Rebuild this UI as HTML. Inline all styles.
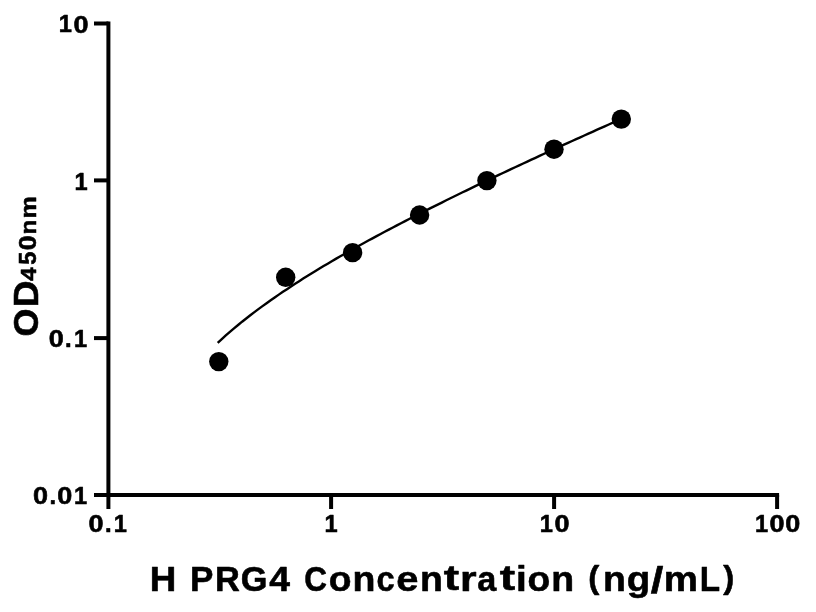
<!DOCTYPE html>
<html><head><meta charset="utf-8"><title>H PRG4 standard curve</title><style>
html,body{margin:0;padding:0;background:#fff;width:816px;height:612px;overflow:hidden}
svg{display:block;will-change:transform}
text{font-family:"Liberation Sans",sans-serif;font-weight:bold;fill:#000;stroke:#000;stroke-width:0.55px;stroke-linejoin:round}
</style></head><body>
<svg width="816" height="612" viewBox="0 0 816 612">
<rect width="816" height="612" fill="#fff"/>
<g stroke="#000" stroke-width="4.0" fill="none">
<line x1="108.4" y1="21.4" x2="108.4" y2="497"/>
<line x1="106.2" y1="495" x2="779.1" y2="495"/>
<line x1="94" y1="23.5" x2="108.4" y2="23.5"/>
<line x1="94" y1="180.4" x2="108.4" y2="180.4"/>
<line x1="94" y1="338.1" x2="108.4" y2="338.1"/>
<line x1="94" y1="495.0" x2="108.4" y2="495.0"/>
<line x1="108.4" y1="495" x2="108.4" y2="509"/>
<line x1="331.1" y1="495" x2="331.1" y2="509"/>
<line x1="554.1" y1="495" x2="554.1" y2="509"/>
<line x1="777.1" y1="495" x2="777.1" y2="509"/>
</g>
<path d="M217.7,342.91 L221.8,339.14 L225.8,335.47 L229.9,331.89 L234.0,328.41 L238.1,325.02 L242.1,321.70 L246.2,318.45 L250.3,315.28 L254.4,312.16 L258.4,309.11 L262.5,306.11 L266.6,303.17 L270.7,300.27 L274.7,297.42 L278.8,294.62 L282.9,291.85 L287.0,289.13 L291.0,286.44 L295.1,283.79 L299.2,281.18 L303.2,278.59 L307.3,276.04 L311.4,273.51 L315.5,271.01 L319.5,268.54 L323.6,266.09 L327.7,263.67 L331.8,261.27 L335.8,258.89 L339.9,256.54 L344.0,254.20 L348.1,251.88 L352.1,249.59 L356.2,247.30 L360.3,245.04 L364.4,242.79 L368.4,240.56 L372.5,238.35 L376.6,236.15 L380.6,233.96 L384.7,231.79 L388.8,229.63 L392.9,227.48 L396.9,225.34 L401.0,223.22 L405.1,221.11 L409.2,219.01 L413.2,216.92 L417.3,214.84 L421.4,212.76 L425.5,210.70 L429.5,208.65 L433.6,206.61 L437.7,204.57 L441.8,202.55 L445.8,200.53 L449.9,198.52 L454.0,196.52 L458.1,194.53 L462.1,192.54 L466.2,190.56 L470.3,188.58 L474.3,186.62 L478.4,184.66 L482.5,182.70 L486.6,180.75 L490.6,178.81 L494.7,176.88 L498.8,174.94 L502.9,173.02 L506.9,171.10 L511.0,169.18 L515.1,167.27 L519.2,165.37 L523.2,163.47 L527.3,161.57 L531.4,159.68 L535.5,157.79 L539.5,155.91 L543.6,154.03 L547.7,152.16 L551.7,150.29 L555.8,148.43 L559.9,146.56 L564.0,144.71 L568.0,142.85 L572.1,141.00 L576.2,139.15 L580.3,137.31 L584.3,135.47 L588.4,133.64 L592.5,131.80 L596.6,129.97 L600.6,128.15 L604.7,126.32 L608.8,124.50 L612.9,122.69 L616.9,120.87 L621.0,119.06" stroke="#000" stroke-width="2.4" fill="none"/>
<g fill="#000">
<circle cx="218.8" cy="361.60" r="9.7"/>
<circle cx="285.7" cy="277.30" r="9.7"/>
<circle cx="352.6" cy="252.60" r="9.7"/>
<circle cx="419.6" cy="215.00" r="9.7"/>
<circle cx="486.9" cy="180.60" r="9.7"/>
<circle cx="554.0" cy="149.20" r="9.7"/>
<circle cx="621.3" cy="119.10" r="9.7"/>
</g>
<g><text transform="matrix(1.0815 0 0 1.0353 149.64 590.52)" font-size="34.0">H</text><text transform="matrix(1.0309 0 0 1.0353 190.03 590.52)" font-size="34.0">P</text><text transform="matrix(1.0112 0 0 1.0353 214.99 590.52)" font-size="34.0">R</text><text transform="matrix(1.0091 0 0 1.0444 240.63 590.65)" font-size="34.0">G</text><text transform="matrix(1.0963 0 0 1.0353 269.24 590.52)" font-size="34.0">4</text><text transform="matrix(0.9256 0 0 1.0444 304.13 590.65)" font-size="34.0">C</text><text transform="matrix(1.0951 0 0 1.0181 328.73 590.66)" font-size="34.0">o</text><text transform="matrix(1.1016 0 0 1.0096 352.47 590.52)" font-size="34.0">n</text><text transform="matrix(0.9582 0 0 1.0181 376.44 590.66)" font-size="34.0">c</text><text transform="matrix(1.1760 0 0 1.0181 396.36 590.66)" font-size="34.0">e</text><text transform="matrix(1.1016 0 0 1.0096 419.89 590.52)" font-size="34.0">n</text><text transform="matrix(1.3606 0 0 1.0367 443.66 590.21)" font-size="34.0">t</text><text transform="matrix(1.2528 0 0 1.0096 460.05 590.52)" font-size="34.0">r</text><text transform="matrix(1.0070 0 0 1.0181 477.16 590.66)" font-size="34.0">a</text><text transform="matrix(1.3606 0 0 1.0367 499.63 590.21)" font-size="34.0">t</text><text transform="matrix(1.1397 0 0 1.0256 516.09 590.52)" font-size="34.0">i</text><text transform="matrix(1.0951 0 0 1.0181 527.59 590.66)" font-size="34.0">o</text><text transform="matrix(1.1016 0 0 1.0096 551.33 590.52)" font-size="34.0">n</text><text transform="matrix(0.9752 0 0 0.9392 588.22 588.40)" font-size="34.0">(</text><text transform="matrix(1.1016 0 0 1.0096 602.91 590.52)" font-size="34.0">n</text><text transform="matrix(1.1306 0 0 1.0107 626.68 590.58)" font-size="34.0">g</text><text transform="matrix(1.3307 0 0 1.0801 650.68 592.92)" font-size="34.0">/</text><text transform="matrix(1.1318 0 0 1.0096 663.77 590.52)" font-size="34.0">m</text><text transform="matrix(0.9787 0 0 1.0353 699.77 590.52)" font-size="34.0">L</text><text transform="matrix(0.9752 0 0 0.9392 723.23 588.40)" font-size="34.0">)</text></g>
<g><text transform="matrix(1.0498 0 0 1.0233 58.73 32.42)" font-size="22.5">1</text><text transform="matrix(1.2001 0 0 1.0326 73.38 32.51)" font-size="22.5">0</text></g>
<g><text transform="matrix(1.0498 0 0 1.0233 74.58 189.82)" font-size="22.5">1</text></g>
<g><text transform="matrix(1.2001 0 0 1.0326 48.78 346.61)" font-size="22.5">0</text><text transform="matrix(1.0618 0 0 1.0899 65.06 346.50)" font-size="22.5">.</text><text transform="matrix(1.0498 0 0 1.0233 73.98 346.52)" font-size="22.5">1</text></g>
<g><text transform="matrix(1.2001 0 0 1.0326 33.12 503.71)" font-size="22.5">0</text><text transform="matrix(1.0618 0 0 1.0899 49.41 503.60)" font-size="22.5">.</text><text transform="matrix(1.2001 0 0 1.0326 57.33 503.71)" font-size="22.5">0</text><text transform="matrix(1.0498 0 0 1.0233 73.98 503.62)" font-size="22.5">1</text></g>
<g><text transform="matrix(1.2001 0 0 1.0326 88.61 531.81)" font-size="22.5">0</text><text transform="matrix(1.0618 0 0 1.0899 104.89 531.70)" font-size="22.5">.</text><text transform="matrix(1.0498 0 0 1.0233 113.81 531.72)" font-size="22.5">1</text></g>
<g><text transform="matrix(1.0498 0 0 1.0233 324.61 531.72)" font-size="22.5">1</text></g>
<g><text transform="matrix(1.0498 0 0 1.0233 539.78 531.72)" font-size="22.5">1</text><text transform="matrix(1.2001 0 0 1.0326 554.44 531.81)" font-size="22.5">0</text></g>
<g><text transform="matrix(1.0498 0 0 1.0233 754.96 531.72)" font-size="22.5">1</text><text transform="matrix(1.2001 0 0 1.0326 769.61 531.81)" font-size="22.5">0</text><text transform="matrix(1.2001 0 0 1.0326 785.27 531.81)" font-size="22.5">0</text></g>
<g transform="translate(0,612) rotate(-90)"><text transform="matrix(1.0549 0 0 1.0444 275.52 38.35)" font-size="34.0">O</text><text transform="matrix(1.0899 0 0 1.0353 304.85 38.22)" font-size="34.0">D</text></g>
<g transform="translate(0,612) rotate(-90)"><text transform="matrix(1.0798 0 0 1.0230 331.25 35.92)" font-size="22.35">4</text><text transform="matrix(1.0511 0 0 1.0288 347.16 36.01)" font-size="22.35">5</text><text transform="matrix(1.1997 0 0 1.0324 361.76 36.01)" font-size="22.35">0</text><text transform="matrix(1.0833 0 0 0.9945 377.55 35.93)" font-size="22.35">n</text><text transform="matrix(1.1197 0 0 0.9945 393.39 35.93)" font-size="22.35">m</text></g>
</svg>
</body></html>
